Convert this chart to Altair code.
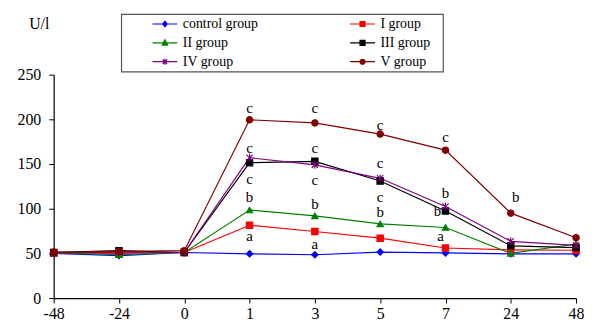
import altair as alt
import pandas as pd

times = ["-48", "-24", "0", "1", "3", "5", "7", "24", "48"]
series = ["control group", "I group", "II group", "III group", "IV group", "V group"]
colors = ["#0000FF", "#FF0000", "#008000", "#000000", "#800080", "#800000"]

control = [50, 47.5, 51, 49.5, 48.5, 51.5, 50.5, 49.5, 49.5]
group_1 = [50.5, 50, 51, 81.5, 74.5, 67, 56, 54, 53.5]
group_2 = [50.5, 48.5, 51, 98.5, 92, 83, 79, 50, 60.5]
group_3 = [51, 53, 51, 151.5, 153, 131, 97.5, 58.5, 56.5]
group_4 = [50.5, 51.5, 51, 157, 149, 134, 102.5, 63.5, 59]
group_5 = [51.5, 52, 53, 199.5, 196, 183.5, 165.5, 95, 67.5]
values = [control, group_1, group_2, group_3, group_4, group_5]

ann_x = ["1", "1", "1", "1", "1", "3", "3", "3", "3", "3", "5", "5", "5", "5",
         "7", "7", "7", "7", "24"]
ann_y = [213, 168, 133, 113, 69, 213, 168, 132, 105, 60, 194, 151, 113, 96,
         180, 118, 97, 69, 113]
ann_text = ["c", "c", "c", "b", "a", "c", "c", "c", "b", "a", "c", "c", "c", "b",
            "c", "b", "b", "a", "b"]
ann_dx = [0, 0, 0, 0, 0, 0, 0, 0, 0, 0, 0, 0, 0, 0, 0, 0, -8, -5, 5]

plot_shapes = [
    "diamond",
    "square",
    "triangle-up",
    "square",
    "M-1,-1L1,1M-1,1L1,-1M0,-1.25L0,1.25",
    "circle",
]
# legend symbols: a line through the marker (units of 5 px)
line_path = "M-2.5,0L2.5,0 "
pad_right = "M15,0 "
legend_shapes = [
    line_path + "M0,-0.55L0.45,0L0,0.55L-0.45,0Z",
    pad_right + line_path + "M-0.5,-0.5L0.5,-0.5L0.5,0.5L-0.5,0.5Z",
    line_path + "M0,-0.6L0.55,0.45L-0.55,0.45Z",
    pad_right + line_path + "M-0.5,-0.5L0.5,-0.5L0.5,0.5L-0.5,0.5Z",
    line_path + "M-0.45,-0.45L0.45,0.45M-0.45,0.45L0.45,-0.45M0,-0.62L0,0.62",
    pad_right + line_path + "M0.5,0A0.5,0.5,0,1,1,-0.5,0A0.5,0.5,0,1,1,0.5,0Z",
]

rows = []
for s_i, s in enumerate(series):
    for t_i, t in enumerate(times):
        rows.append({"time": t, "value": values[s_i][t_i], "series": s, "order": s_i})
df = pd.DataFrame(rows)

ann = pd.DataFrame({"time": ann_x, "value": ann_y, "label": ann_text, "dx": ann_dx})

FONT = "Liberation Serif, DejaVu Serif, serif"

x_enc = alt.X(
    "time:N",
    sort=times,
    scale=alt.Scale(domain=times, paddingOuter=0, padding=0),
    axis=alt.Axis(
        title=None, labelAngle=0, labelFont=FONT, labelFontSize=16,
        labelColor="black", domainColor="black", tickColor="black",
        tickSize=5, labelPadding=3, grid=False, domainWidth=1.2,
    ),
)
y_enc = alt.Y(
    "value:Q",
    scale=alt.Scale(domain=[0, 250], nice=False, zero=True),
    axis=alt.Axis(
        values=[0, 50, 100, 150, 200, 250], title="U/l", titleAngle=0,
        titleX=-15, titleY=-51, titleAlign="center", titleBaseline="middle",
        titleFont=FONT, titleFontSize=16, titleFontWeight="normal",
        titleColor="black", labelFont=FONT, labelFontSize=16, labelColor="black",
        domainColor="black", tickColor="black", tickSize=5, labelPadding=8,
        grid=False, domainWidth=1.2,
    ),
)

col_scale = alt.Scale(domain=series, range=colors)

lines = alt.Chart(df).mark_line(strokeWidth=1.2).encode(
    x=x_enc, y=y_enc,
    stroke=alt.Stroke("series:N", scale=col_scale, legend=None),
    detail="series:N",
    order=alt.Order("order:Q"),
)

points = alt.Chart(df).mark_point(filled=True, strokeWidth=1.2, opacity=1, size=40).encode(
    x=x_enc, y=y_enc,
    fill=alt.Fill("series:N", scale=col_scale, legend=None),
    stroke=alt.Stroke("series:N", scale=col_scale, legend=None),
    shape=alt.Shape("series:N", scale=alt.Scale(domain=series, range=plot_shapes), legend=None),
    order=alt.Order("order:Q"),
)

text_layers = []
for d in sorted(set(ann_dx)):
    text_layers.append(
        alt.Chart(ann).transform_filter(alt.datum.dx == d).mark_text(
            font=FONT, fontSize=15, color="black", baseline="middle", align="center", dx=d
        ).encode(x=x_enc, y=y_enc, text="label:N")
    )

leg = alt.Legend(
    title=None,
    orient="none", legendX=68, legendY=-61, columns=2, direction="horizontal",
    symbolSize=100, symbolStrokeWidth=1.2, symbolOpacity=1, symbolOffset=34,
    labelFont=FONT, labelFontSize=14, labelColor="black", labelOffset=11,
    rowPadding=5, columnPadding=64, padding=3,
    strokeColor="#555555",
)

legend_layer = alt.Chart(df).transform_filter("false").mark_point(filled=True, strokeWidth=1.2).encode(
    x=x_enc, y=y_enc,
    fill=alt.Fill("series:N", scale=alt.Scale(domain=series, range=colors), legend=leg),
    stroke=alt.Stroke("series:N", scale=alt.Scale(domain=series, range=colors), legend=leg),
    shape=alt.Shape("series:N", scale=alt.Scale(domain=series, range=legend_shapes), legend=leg),
)

chart = alt.layer(lines, points, *text_layers, legend_layer).resolve_scale(
    fill="independent", stroke="independent", shape="independent"
).properties(
    width=526, height=225,
    autosize=alt.AutoSizeParams(type="none"),
    padding={"left": 46, "top": 66, "right": 8, "bottom": 24},
).configure_view(stroke=None).configure_legend(strokeWidth=1.2)

chart.save("out.html", embed_options={"renderer": "svg", "actions": False})
